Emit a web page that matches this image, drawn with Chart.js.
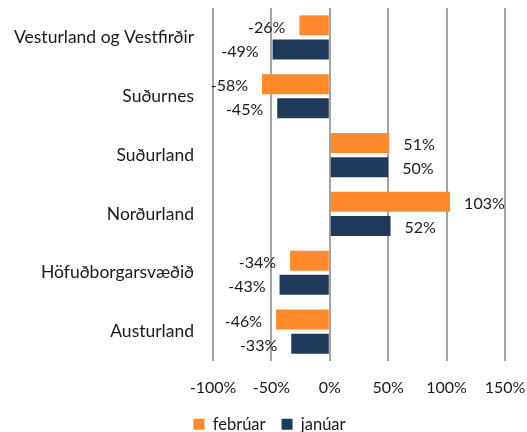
<!DOCTYPE html>
<html><head><meta charset="utf-8">
<script src="https://cdn.jsdelivr.net/npm/chart.js@4/dist/chart.umd.min.js"></script>
<style>html,body{margin:0;padding:0;background:#fff}</style>
</head><body>
<canvas id="c" width="527" height="432"></canvas>
<script>
const categories = ["Vesturland og Vestfirðir", "Suðurnes", "Suðurland", "Norðurland", "Höfuðborgarsvæðið", "Austurland"];
const februar = [-26, -58, 51, 103, -34, -46];
const januar = [-49, -45, 50, 52, -43, -33];
const seriesNames = ["febrúar", "janúar"];
const xMin = -100, xMax = 150, xStep = 50;

const FONT = "Lato";
const TXT = "#1a1a1a";

const dataLabels = {
  id: "dataLabels",
  afterDatasetsDraw(chart) {
    const ctx = chart.ctx;
    ctx.save();
    ctx.font = "16px " + FONT;
    ctx.fillStyle = TXT;
    ctx.textBaseline = "middle";
    chart.data.datasets.forEach((ds, i) => {
      const meta = chart.getDatasetMeta(i);
      meta.data.forEach((el, j) => {
        const v = ds.data[j];
        const txt = v + "%";
        if (v >= 0) { ctx.textAlign = "left"; ctx.fillText(txt, el.x + 14, el.y + 2); }
        else { ctx.textAlign = "right"; ctx.fillText(txt, el.x - 14, el.y + 2); }
      });
    });
    ctx.restore();
  }
};

const legendShift = {
  id: "legendShift",
  afterLayout(chart) {
    const lg = chart.legend;
    if (lg) { lg.left += 17; lg.right += 17; }
  }
};

new Chart(document.getElementById("c"), {
  type: "bar",
  data: {
    labels: categories,
    datasets: [
      { label: seriesNames[0], data: februar, backgroundColor: "#FF8A2B", categoryPercentage: 0.82, barPercentage: 0.83 },
      { label: seriesNames[1], data: januar, backgroundColor: "#1F3A5A", categoryPercentage: 0.82, barPercentage: 0.83 }
    ]
  },
  options: {
    indexAxis: "y",
    responsive: false,
    animation: false,
    layout: { padding: { top: 8, right: 22, left: 0, bottom: 0 } },
    scales: {
      x: {
        min: xMin, max: xMax,
        afterFit(scale) { scale.height = 39; scale.paddingLeft = 0; scale.paddingRight = 0; },
        ticks: { stepSize: xStep, callback: v => v + "%", font: { family: FONT, size: 16 }, color: TXT, padding: 17, maxRotation: 0 },
        grid: { color: "#a3a3a3", lineWidth: 2, drawTicks: false },
        border: { display: false }
      },
      y: {
        afterFit(scale) { scale.width = 213; scale.paddingTop = 0; scale.paddingBottom = 0; },
        ticks: { font: { family: FONT, size: 17.5 }, color: TXT, padding: 19 },
        grid: { display: false, drawTicks: false },
        border: { display: false }
      }
    },
    plugins: {
      legend: {
        position: "bottom",
        maxHeight: 32,
        labels: { font: { family: FONT, size: 16.5 }, color: TXT, boxWidth: 11, boxHeight: 11, padding: 16 }
      },
      tooltip: { enabled: false }
    }
  },
  plugins: [dataLabels, legendShift]
});
</script>
</body></html>
